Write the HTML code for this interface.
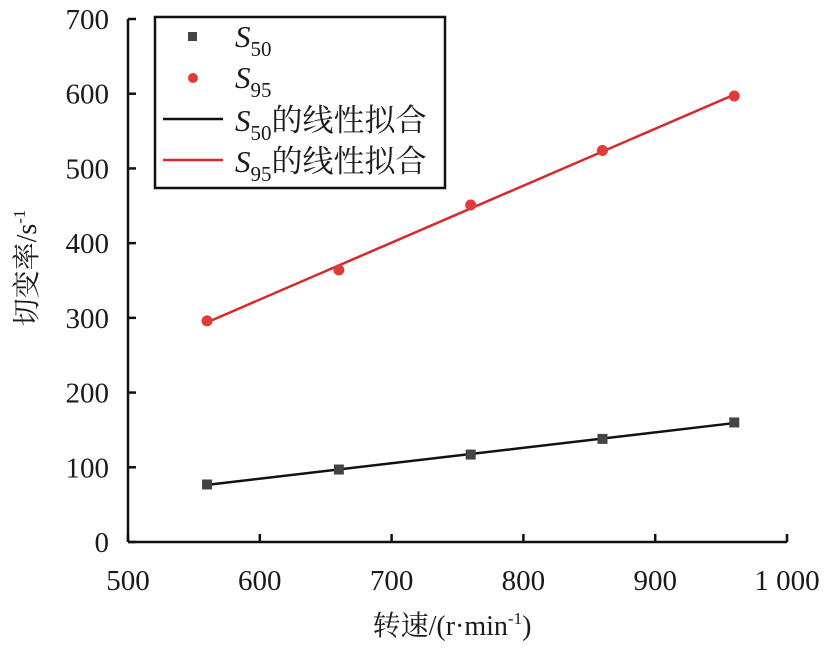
<!DOCTYPE html>
<html><head><meta charset="utf-8"><style>
body{margin:0;background:#fff}
svg text{font-family:"Liberation Serif","Noto Serif CJK SC",serif;fill:#1a1a1a}
</style></head><body>
<svg id="chart" width="827" height="646" xmlns="http://www.w3.org/2000/svg">
<g id="axes"></g><g id="marks"></g>
<g>
<rect x="155" y="17" width="290" height="171" fill="#fff" stroke="#111" stroke-width="2.5"/>
<rect x="188" y="32" width="9" height="9" fill="#444"/>
<text x="235" y="47" font-size="31" font-style="italic">S<tspan font-size="21" font-style="normal" dy="9">50</tspan></text>
<circle cx="193" cy="78" r="5" fill="#e03a3a"/>
<text x="235" y="88" font-size="31" font-style="italic">S<tspan font-size="21" font-style="normal" dy="9">95</tspan></text>
<line x1="163" y1="119" x2="223" y2="119" stroke="#111" stroke-width="2.5"/>
<text x="235" y="131" font-size="31"><tspan font-style="italic">S</tspan><tspan font-size="21" dy="9">50</tspan><tspan dy="-9">的线性拟合</tspan></text>
<line x1="163" y1="160" x2="223" y2="160" stroke="#d42a2a" stroke-width="2.5"/>
<text x="235" y="172" font-size="31"><tspan font-style="italic">S</tspan><tspan font-size="21" dy="9">95</tspan><tspan dy="-9">的线性拟合</tspan></text>
</g>
<text x="452" y="635" font-size="28" text-anchor="middle">转速/(r·min<tspan font-size="17" dy="-11">-1</tspan><tspan dy="11">)</tspan></text>
<text transform="translate(36,268) rotate(-90)" font-size="28" text-anchor="middle">切变率/s<tspan font-size="17" dy="-11">-1</tspan></text>
</svg>
<script>
const speeds=[560,660,760,860,960];
const s50=[77,97,117,138,160];
const s95=[296,364,451,524,597];
const xTicks=[500,600,700,800,900,1000];
const xTickLabels=["500","600","700","800","900","1 000"];
const yTicks=[0,100,200,300,400,500,600,700];
const NS="http://www.w3.org/2000/svg";
const X=v=>128+(v-500)*(787-128)/500;
const Y=v=>542-v*(542-19)/700;
const axes=document.getElementById('axes'),marks=document.getElementById('marks');
function mk(t,a,p){const e=document.createElementNS(NS,t);for(const k in a)e.setAttribute(k,a[k]);p.appendChild(e);return e;}
let e=mk('line',{x1:X(500),y1:Y(0),x2:X(1000),y2:Y(0),stroke:'#111','stroke-width':2.5},axes);


e=mk('line',{x1:X(500),y1:Y(0),x2:X(500),y2:Y(700),stroke:'#111','stroke-width':2.5},axes);


xTicks.forEach((v,i)=>{
 let t=mk('line',{x1:X(v),y1:Y(0),x2:X(v),y2:Y(0)-8,stroke:'#111','stroke-width':2.5},axes);
 
 
 let l=mk('text',{x:X(v),y:590,'font-size':29,'text-anchor':'middle'},axes);l.textContent=xTickLabels[i];
 
 
});
yTicks.forEach(v=>{
 let t=mk('line',{x1:X(500),y1:Y(v),x2:X(500)+8,y2:Y(v),stroke:'#111','stroke-width':2.5},axes);
 
 
 let l=mk('text',{x:109,y:Y(v)+10,'font-size':29,'text-anchor':'end'},axes);l.textContent=v;
 
 
});
function fit(ys){const n=speeds.length,mx=speeds.reduce((a,b)=>a+b)/n,my=ys.reduce((a,b)=>a+b)/n;let sxy=0,sxx=0;speeds.forEach((x,i)=>{sxy+=(x-mx)*(ys[i]-my);sxx+=(x-mx)**2});const b=sxy/sxx;return x=>my+b*(x-mx);}
[[s50,'#111','s50'],[s95,'#d42a2a','s95']].forEach(([ys,c,n])=>{
 const f=fit(ys),x0=speeds[0],x1=speeds[speeds.length-1];
 let l=mk('line',{x1:X(x0),y1:Y(f(x0)),x2:X(x1),y2:Y(f(x1)),stroke:c,'stroke-width':2.5},marks);
 
 
});
speeds.forEach((x,i)=>{
 let r=mk('rect',{x:X(x)-5,y:Y(s50[i])-5,width:10,height:10,fill:'#444'},marks);
 
 
 let c=mk('circle',{cx:X(x),cy:Y(s95[i]),r:5.5,fill:'#e03a3a'},marks);
 
 
});
</script>
</body></html>
